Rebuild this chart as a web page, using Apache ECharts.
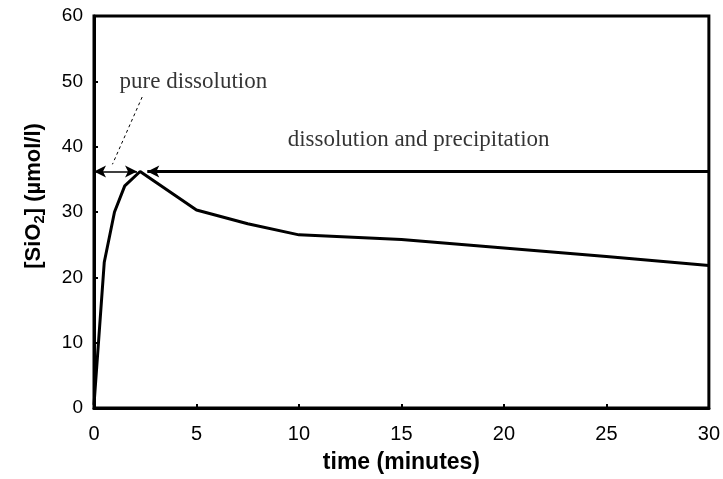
<!DOCTYPE html>
<head>
    <meta charset="utf-8">
    <title>SiO2 dissolution</title>
    <script src="https://cdn.jsdelivr.net/npm/echarts@6/dist/echarts.min.js"></script>
</head>
<body style="margin:0">
<div id="main" style="width:723px;height:479px"></div>
<script type="text/javascript">
    // data
    var times = [0, 0.5, 1, 1.5, 2.25, 5, 7.5, 10, 15, 20, 25, 30];
    var sio2 = [0.5, 22.3, 30, 34, 36.2, 30.3, 28.2, 26.5, 25.8, 24.5, 23.2, 21.8];
    var xTicks = [0, 5, 10, 15, 20, 25, 30];
    var yTicks = [0, 10, 20, 30, 40, 50, 60];
    var level = 36.2;           // plateau line
    var peakLeft = 2.1;         // tip of the ">" arrow
    var peakRight = 2.6;        // tip of the "<" arrow
    var notes = [
        {text: 'pure dissolution', at: [1.25, 49.9]},
        {text: 'dissolution and precipitation', at: [9.45, 41.1]}
    ];
    var pointer = [[2.35, 47.6], [0.9, 37.3]];   // dashed leader line

    var myChart = echarts.init(document.getElementById('main'));

    var serif = '"Liberation Serif", "Times New Roman", serif';
    var sans = '"Liberation Sans", Arial, sans-serif';

    var option = {
        animation: false,
        backgroundColor: '#fff',
        grid: {
            left: 94, right: 14, top: 16, bottom: 69,
            show: true, borderColor: '#000', borderWidth: 3
        },
        xAxis: {
            type: 'value',
            min: xTicks[0], max: xTicks[xTicks.length - 1], interval: 5,
            name: 'time (minutes)',
            nameLocation: 'middle', nameGap: 43,
            nameTextStyle: {fontFamily: sans, fontSize: 23, fontWeight: 'bold', color: '#000'},
            axisLine: {lineStyle: {color: '#000', width: 3}},
            axisTick: {inside: true, length: 4, lineStyle: {color: '#000', width: 2}},
            axisLabel: {margin: 16, fontFamily: sans, fontSize: 20, color: '#000'},
            splitLine: {show: false}
        },
        yAxis: {
            type: 'value',
            min: yTicks[0], max: yTicks[yTicks.length - 1], interval: 10,
            axisLine: {show: true, lineStyle: {color: '#000', width: 3}},
            axisTick: {show: true, inside: true, length: 4, lineStyle: {color: '#000', width: 2}},
            axisLabel: {margin: 11, fontFamily: sans, fontSize: 19, color: '#000'},
            splitLine: {show: false}
        },
        graphic: [{
            type: 'text',
            x: 20, y: 196,
            rotation: Math.PI / 2,
            style: {
                text: '{a|[SiO}{s|2}{a|] (µmol/l)}',
                align: 'center', verticalAlign: 'top',
                rich: {
                    a: {fontFamily: sans, fontSize: 22, fontWeight: 'bold', fill: '#000'},
                    s: {fontFamily: sans, fontSize: 15, fontWeight: 'bold', fill: '#000', padding: [12, 0, 0, 0]}
                }
            }
        }],
        series: [
            {
                type: 'line',
                data: times.map(function (t, i) { return [t, sio2[i]]; }),
                symbol: 'none',
                lineStyle: {color: '#000', width: 3},
                silent: true,
                markLine: {
                    silent: true,
                    label: {show: false},
                    emphasis: {disabled: true},
                    data: [
                        [
                            {coord: [0, level], symbol: 'arrow', symbolSize: [9, 12], lineStyle: {color: '#000', width: 1.5, type: 'solid'}},
                            {coord: [peakLeft, level], symbol: 'arrow', symbolSize: [9, 12]}
                        ],
                        [
                            {coord: [xTicks[xTicks.length - 1], level], symbol: 'none', lineStyle: {color: '#000', width: 3, type: 'solid'}},
                            {coord: [peakRight, level], symbol: 'arrow', symbolSize: [9, 12]}
                        ],
                        [
                            {coord: pointer[0], symbol: 'none', lineStyle: {color: '#000', width: 1, type: [3, 3]}},
                            {coord: pointer[1], symbol: 'none'}
                        ]
                    ]
                }
            },
            {
                type: 'scatter',
                silent: true,
                symbolSize: 0,
                data: notes.map(function (n) { return {value: n.at, name: n.text}; }),
                label: {
                    show: true, position: 'right', distance: 0,
                    formatter: function (p) { return p.name; },
                    fontFamily: serif, fontSize: 23, color: '#000'
                }
            }
        ]
    };

    myChart.setOption(option);
</script>
</body>
